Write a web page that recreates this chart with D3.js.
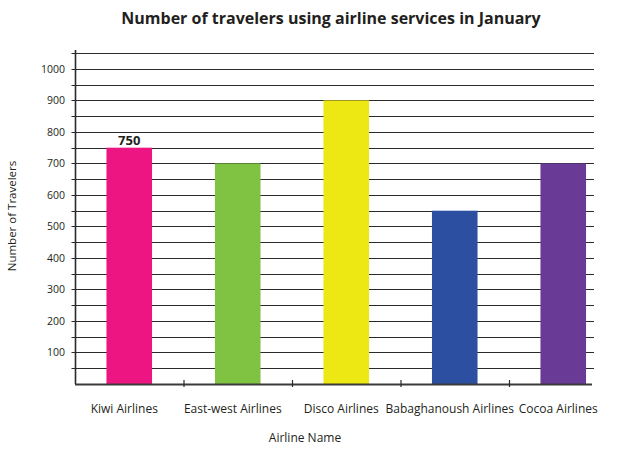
<!DOCTYPE html>
<html>
<head>
<meta charset="utf-8">
<script src="https://cdn.jsdelivr.net/npm/d3@7"></script>
<style>
	body { margin: 0; background: #fff; }
	#chart-area { width: 622px; height: 455px; }
	text { font-family: "Open Sans", sans-serif; fill: #231f20; }
</style>
</head>
<body>
<div id="chart-area"></div>
<script>
const airlines = ['Kiwi Airlines', 'East-west Airlines', 'Disco Airlines', 'Babaghanoush Airlines', 'Cocoa Airlines'];
const travelers = [750, 700, 900, 550, 700];
const barColors = ['#ed1582', '#80c242', '#ede813', '#2d4fa1', '#6a3b96'];
const yTickLabels = [100, 200, 300, 400, 500, 600, 700, 800, 900, 1000];
const yGridValues = [50, 100, 150, 200, 250, 300, 350, 400, 450, 500, 550, 600, 650, 700, 750, 800, 850, 900, 950, 1000, 1050];
const labelledBars = ['Kiwi Airlines'];

window.addEventListener('DOMContentLoaded', (window_event) => {

	const margin = {
		top: 50,
		right: 4,
		bottom: 71,
		left: 75
	};

	const parentHeight = document.getElementById('chart-area').clientHeight;
	const parentWidth = document.getElementById('chart-area').clientWidth;

	const height = parentHeight - margin.top - margin.bottom;
	const width = parentWidth - margin.right - margin.left;
	const gridWidth = 519;

	const data = airlines.map((name, i) => ({ name: name, value: travelers[i], color: barColors[i] }));

	const svg = d3.select('#chart-area')
		.append('svg')
		.attr('height', parentHeight)
		.attr('width', parentWidth);

	const g = svg.append('g')
		.attr('transform', `translate(${margin.left}, ${margin.top})`);

	// Scales
	const x = d3.scaleBand()
		.domain(airlines)
		.range([0, width - 0.5]);

	const y = d3.scaleLinear()
		.domain([0, 1060])
		.range([height, 0]);

	// Grid lines
	g.selectAll('.grid')
		.data(yGridValues)
		.enter()
			.append('line')
			.attr('class', 'grid')
			.attr('x1', -3.5)
			.attr('x2', gridWidth)
			.attr('y1', (d) => Math.round(y(d)) + 0.5)
			.attr('y2', (d) => Math.round(y(d)) + 0.5)
			.attr('stroke', '#2a2a2a')
			.attr('stroke-width', 1.1);

	// Bars
	const barWidth = x.bandwidth() * 0.42;
	g.selectAll('rect')
		.data(data)
		.enter()
			.append('rect')
			.attr('x', (d) => x(d.name) + x.bandwidth() / 2 - barWidth / 2)
			.attr('y', (d) => y(d.value))
			.attr('width', barWidth)
			.attr('height', (d) => height - y(d.value))
			.attr('fill', (d) => d.color);

	// Value label
	g.selectAll('.value-label')
		.data(data.filter((d) => labelledBars.includes(d.name)))
		.enter()
			.append('text')
			.attr('class', 'value-label')
			.attr('x', (d) => x(d.name) + x.bandwidth() / 2)
			.attr('y', (d) => y(d.value) - 3)
			.attr('text-anchor', 'middle')
			.style('font-size', '13px')
			.style('font-weight', 'bold')
			.text((d) => d.value);

	// Y axis
	g.append('line')
		.attr('x1', 0.5)
		.attr('x2', 0.5)
		.attr('y1', 0)
		.attr('y2', height)
		.attr('stroke', '#2a2a2a')
		.attr('stroke-width', 1.6);

	const leftAxis = d3.axisLeft(y)
		.tickValues(yTickLabels)
		.tickFormat(d3.format('d'))
		.tickSize(0)
		.tickPadding(10);
	g.append('g')
		.attr('class', 'axis-left')
		.call(leftAxis)
		.call((axis) => axis.select('.domain').remove())
		.call((axis) => axis.selectAll('text')
			.style('font-size', '10.5px')
			.style('font-family', '"Open Sans", sans-serif')
			.attr('fill', '#231f20'));

	// X axis
	g.append('line')
		.attr('x1', 0)
		.attr('x2', gridWidth - 2)
		.attr('y1', height + 0.5)
		.attr('y2', height + 0.5)
		.attr('stroke', '#3a3a3a')
		.attr('stroke-width', 2);

	g.selectAll('.x-sep')
		.data(airlines.slice(1))
		.enter()
			.append('line')
			.attr('class', 'x-sep')
			.attr('x1', (d) => x(d) + 0.5)
			.attr('x2', (d) => x(d) + 0.5)
			.attr('y1', height - 4)
			.attr('y2', height + 3)
			.attr('stroke', '#2a2a2a')
			.attr('stroke-width', 1.2);

	g.selectAll('.x-label')
		.data(airlines)
		.enter()
			.append('text')
			.attr('class', 'x-label')
			.attr('x', (d) => x(d) + x.bandwidth() / 2 - 5)
			.attr('y', height + 29)
			.attr('text-anchor', 'middle')
			.style('font-size', '12px')
			.text((d) => d);

	// Axis titles
	svg.append('text')
		.attr('x', 305)
		.attr('y', 442)
		.attr('text-anchor', 'middle')
		.style('font-size', '12px')
		.text('Airline Name');

	svg.append('text')
		.attr('transform', 'translate(16, 216) rotate(-90)')
		.attr('text-anchor', 'middle')
		.style('font-size', '11.5px')
		.text('Number of Travelers');

	// Title
	svg.append('text')
		.attr('x', 331)
		.attr('y', 24)
		.attr('text-anchor', 'middle')
		.style('font-size', '16px')
		.style('font-weight', 'bold')
		.text('Number of travelers using airline services in January');

}); // end of document ready
</script>
</body>
</html>
